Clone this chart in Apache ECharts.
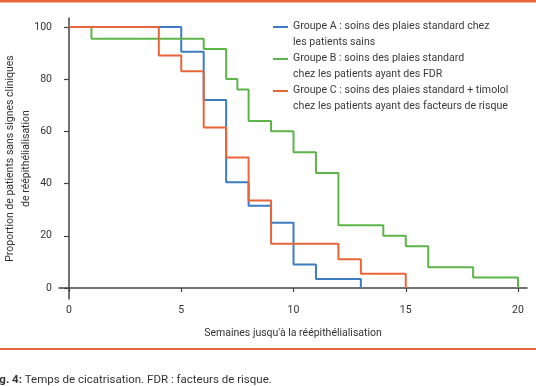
<!DOCTYPE html>
<html>
<head>
<meta charset="utf-8">
<script src="https://cdn.jsdelivr.net/npm/echarts@6/dist/echarts.min.js"></script>
<style>html,body{margin:0;padding:0;background:#fff;}#c{width:536px;height:386px;}</style>
</head>
<body>
<div id="c"></div>
<script>
const xTicks = [0, 5, 10, 15, 20];
const yTicks = [0, 20, 40, 60, 80, 100];
const seriesNames = [
  "Groupe A : soins des plaies standard chez\nles patients sains",
  "Groupe B : soins des plaies standard\nchez les patients ayant des FDR",
  "Groupe C : soins des plaies standard + timolol\nchez les patients ayant des facteurs de risque"
];
const groupA = [[0,100],[5,90.5],[6,72],[7,40.5],[8,31.5],[9,25],[10,9],[11,3.5],[13,0]];
const groupB = [[0,100],[1,95.5],[6,91.5],[7,80],[7.5,76],[8,64],[9,60],[10,52],[11,44],[12,24],[14,20],[15,16],[16,8],[18,4],[20,0]];
const groupC = [[0,100],[4,89],[5,83],[6,61.5],[7,50],[8,33.5],[9,17],[12,11],[13,5.5],[15,0]];
const colors = ['#3d7cc0', '#5db54a', '#e8653a'];
const font = 'Roboto';
const axisColor = '#444';

const chart = echarts.init(document.getElementById('c'), null, {renderer: 'canvas'});
const icon = 'path://M0,0L15,0L15,2L0,2Z M0,16L0.001,16L0.001,16.001Z';
chart.setOption({
  animation: false,
  color: colors,
  grid: {left: 59, right: 9, top: 18, bottom: 87, containLabel: false, outerBoundsMode: 'none'},
  legend: {
    orient: 'vertical', left: 273, top: 18, padding: 0,
    itemWidth: 15, itemHeight: 16, itemGap: 0,
    icon: icon,
    textStyle: {fontFamily: font, fontSize: 10.6, color: '#3a3a3a', lineHeight: 16, padding: [0,0,0,0]},
    data: seriesNames.map((n, i) => ({name: n, itemStyle: {color: colors[i]}}))
  },
  xAxis: {
    type: 'value', min: -0.445, max: 20.4,
    splitLine: {show: false},
    axisLine: {lineStyle: {color: axisColor, width: 1.5}},
    axisTick: {customValues: xTicks, length: 4, lineStyle: {color: axisColor, width: 1.2}},
    axisLabel: {customValues: xTicks, fontFamily: font, fontSize: 10.5, color: '#333', margin: 6},
    name: "Semaines jusqu'à la réépithélialisation",
    nameLocation: 'middle', nameGap: 29, nameMoveOverlap: false,
    nameTextStyle: {fontFamily: font, fontSize: 10.5, color: '#333'}
  },
  yAxis: {
    type: 'value', min: -4.2, max: 103.4,
    splitLine: {show: false},
    axisLine: {show: true, lineStyle: {color: axisColor, width: 1.5}},
    axisTick: {show: true, customValues: yTicks, length: 5, lineStyle: {color: axisColor, width: 1.2}},
    axisLabel: {customValues: yTicks, fontFamily: font, fontSize: 10.5, color: '#333', margin: 7},
    name: "Proportion de patients sans signes cliniques\nde réépithélialisation",
    nameLocation: 'middle', nameGap: 25, nameRotate: 90, nameMoveOverlap: false,
    nameTextStyle: {fontFamily: font, fontSize: 10.5, color: '#333', lineHeight: 16}
  },
  series: [
    {name: seriesNames[0], type: 'line', step: 'end', data: groupA, showSymbol: false, lineStyle: {width: 2, color: colors[0]}, z: 2},
    {name: seriesNames[1], type: 'line', step: 'end', data: groupB, showSymbol: false, lineStyle: {width: 2, color: colors[1]}, z: 3},
    {name: seriesNames[2], type: 'line', step: 'end', data: groupC, showSymbol: false, lineStyle: {width: 2, color: colors[2]}, z: 4}
  ],
  graphic: [
    {type: 'rect', shape: {x: 0, y: 0, width: 536, height: 2.5}, style: {fill: '#e8653a'}},
    {type: 'rect', shape: {x: 0, y: 348, width: 536, height: 2}, style: {fill: '#e8653a'}},
    {type: 'text', x: -10, y: 380, style: {
      text: '{b|Fig. 4:} Temps de cicatrisation. FDR : facteurs de risque.',
      fontFamily: font, fontSize: 11.5, fill: '#333', verticalAlign: 'middle',
      rich: {b: {fontFamily: font, fontSize: 11.5, fontWeight: 'bold', fill: '#333'}}
    }}
  ]
});
</script>
</body>
</html>
